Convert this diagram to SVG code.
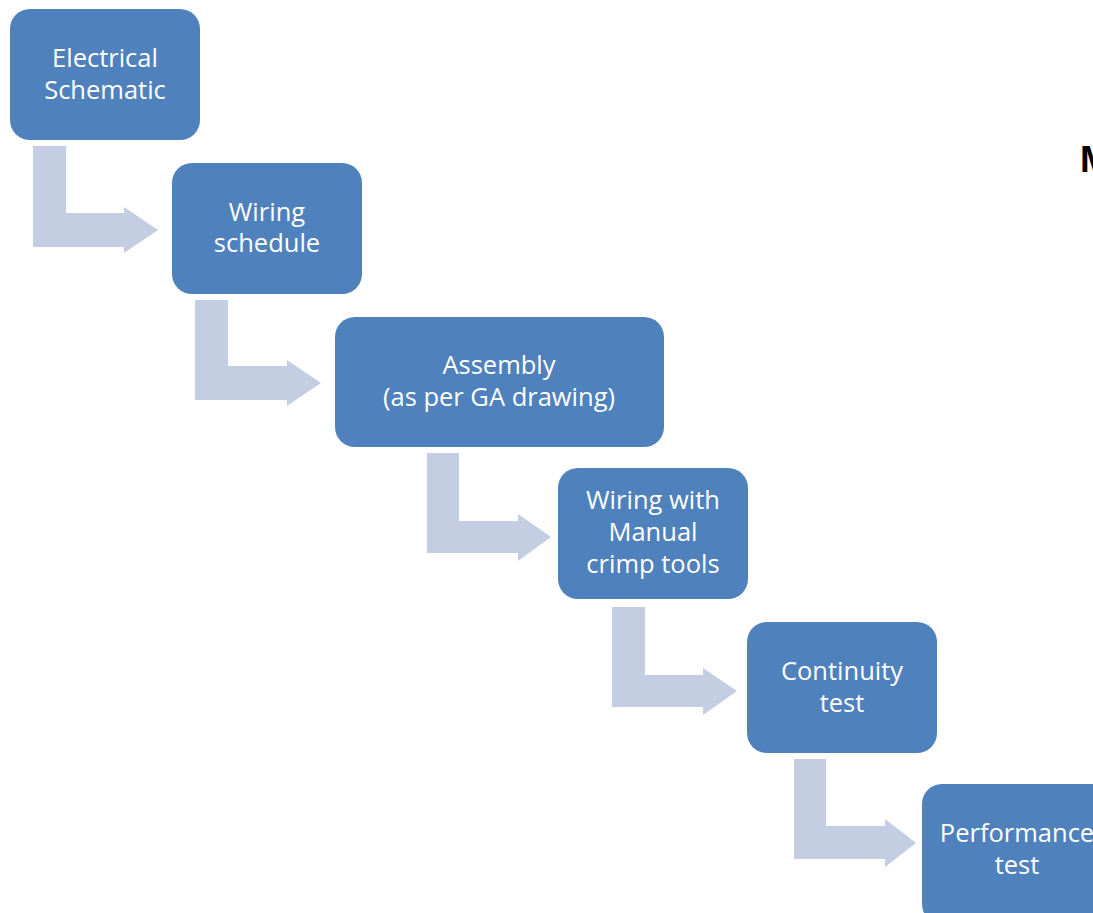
<svg xmlns="http://www.w3.org/2000/svg" width="1093" height="913" viewBox="0 0 1093 913">
<style>
.box{fill:#4F81BD;}
.arr{fill:#C3CEE3;}
.t{font-family:"Open Sans","Noto Sans",sans-serif;font-size:25.5px;fill:#FFFFFF;text-anchor:middle;}
.m{font-family:"Liberation Sans",Arial,sans-serif;font-size:37px;font-weight:bold;fill:#000000;}
</style>
<rect width="1093" height="913" fill="#FFFFFF"/>
<g id="connectors">
<path class="arr" d="M33,146 H66 V213 H124 V207 L158,230 L124,253 V247 H33 Z"/>
<path class="arr" d="M195,300 H228 V366 H287 V360 L321,383 L287,406 V400 H195 Z"/>
<path class="arr" d="M427,453 H459 V521 H518 V514 L551,537 L518,561 V553 H427 Z"/>
<path class="arr" d="M612,607 H645 V675 H703 V668 L737,691 L703,715 V707 H612 Z"/>
<path class="arr" d="M794,759 H826 V826 H885 V819 L916,843 L885,867 V859 H794 Z"/>
</g>
<g id="node1">
<rect class="box" x="10" y="9" width="190" height="131" rx="20"/>
<text class="t" x="105" y="67">Electrical</text>
<text class="t" x="105" y="99">Schematic</text>
</g>
<g id="node2">
<rect class="box" x="172" y="163" width="190" height="131" rx="20"/>
<text class="t" x="267" y="221">Wiring</text>
<text class="t" x="267" y="252">schedule</text>
</g>
<g id="node3">
<rect class="box" x="335" y="317" width="329" height="130" rx="20"/>
<text class="t" x="499" y="374">Assembly</text>
<text class="t" x="499" y="406">(as per GA drawing)</text>
</g>
<g id="node4">
<rect class="box" x="558" y="468" width="190" height="131" rx="20"/>
<text class="t" x="653" y="509">Wiring with</text>
<text class="t" x="653" y="541">Manual</text>
<text class="t" x="653" y="573">crimp tools</text>
</g>
<g id="node5">
<rect class="box" x="747" y="622" width="190" height="131" rx="20"/>
<text class="t" x="842" y="680">Continuity</text>
<text class="t" x="842" y="712">test</text>
</g>
<g id="node6">
<rect class="box" x="922" y="784" width="190" height="140" rx="20"/>
<text class="t" x="1017" y="842">Performance</text>
<text class="t" x="1017" y="874">test</text>
</g>
<text class="m" x="1080" y="172">M</text>
</svg>
